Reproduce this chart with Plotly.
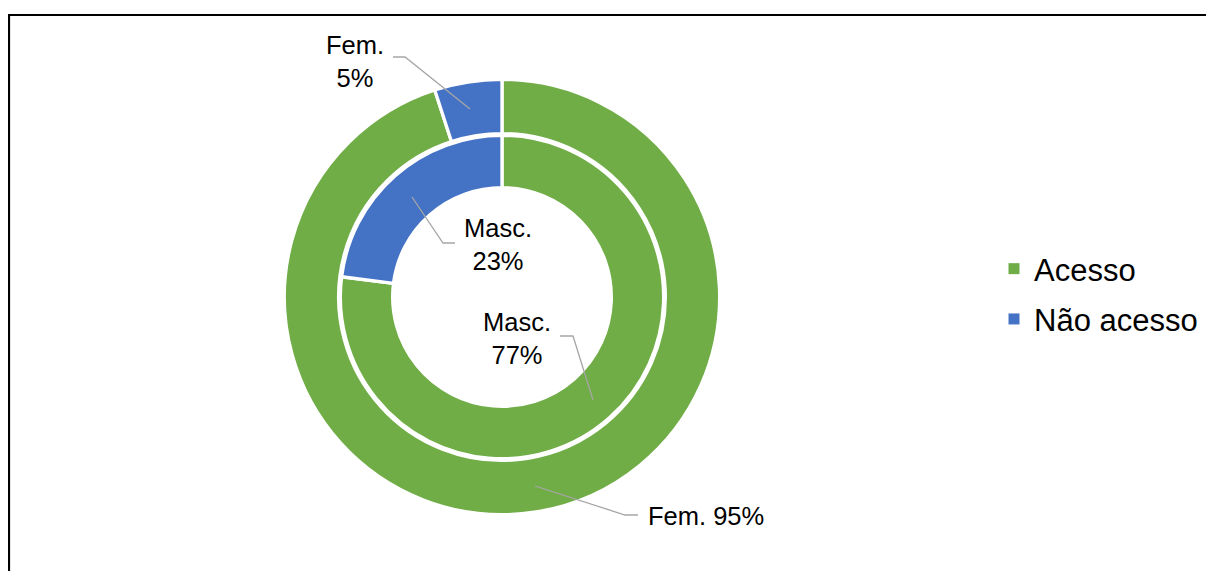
import plotly.graph_objects as go

# ---- data ----
categories = ["Acesso", "Não acesso"]
fem_values = [95, 5]
masc_values = [77, 23]
colors = ["#70AD47", "#4472C4"]

W, H = 1214, 571
OFF = 8  # default page body margin
LW = 3.3  # white separator width


def px(x):
    return (x - OFF) / W


def py(y):
    return 1 - (y - OFF) / H


def dom(cx, cy, r):
    return dict(x=[px(cx - r), px(cx + r)], y=[py(cy + r), py(cy - r)])


CX, CY = 502, 297
R_OUT = 216 + LW / 2
H_OUT = 165 - LW / 2
R_IN = 160 + LW / 2
H_IN = 111 - LW / 2

fig = go.Figure()

# outer ring: Fem.
fig.add_trace(go.Pie(
    labels=categories, values=fem_values, sort=False, direction="clockwise",
    rotation=0, hole=H_OUT / R_OUT, domain=dom(CX, CY, R_OUT),
    marker=dict(colors=colors, line=dict(color="white", width=LW)),
    textinfo="none", hoverinfo="skip", showlegend=False,
))
# inner ring: Masc.
fig.add_trace(go.Pie(
    labels=categories, values=masc_values, sort=False, direction="clockwise",
    rotation=0, hole=H_IN / R_IN, domain=dom(CX, CY, R_IN),
    marker=dict(colors=colors, line=dict(color="white", width=LW)),
    textinfo="none", hoverinfo="skip", showlegend=False,
))

# legend entries
for i, (cat, col) in enumerate(zip(categories, colors)):
    fig.add_trace(go.Scatter(
        x=[None], y=[None], mode="markers", name=cat, legendgroup=f"g{i}",
        marker=dict(symbol="square", size=11, color=col),
    ))

FAM = "Liberation Sans, Arial, sans-serif"
font = dict(family=FAM, size=25.5, color="#000000")

annotations = [
    dict(x=px(355), y=py(61), text=f"Fem.<br>{fem_values[1]}%"),
    dict(x=px(498), y=py(244), text=f"Masc.<br>{masc_values[1]}%"),
    dict(x=px(517), y=py(338), text=f"Masc.<br>{masc_values[0]}%"),
    dict(x=px(706), y=py(516), text=f"Fem. {fem_values[0]}%"),
]
for a in annotations:
    a.update(xref="paper", yref="paper", showarrow=False, font=font,
             xanchor="center", yanchor="middle", align="center")


def path(points):
    s = "M " + " L ".join(f"{px(x)},{py(y)}" for x, y in points)
    return dict(type="path", xref="paper", yref="paper", path=s,
                line=dict(color="#A6A6A6", width=1.3))


shapes = [
    path([(393, 57), (405, 57), (470, 109)]),
    path([(455, 243), (443, 243), (412, 197)]),
    path([(560, 336), (573, 336), (593, 400)]),
    path([(535, 486), (625, 515), (638, 515)]),
    dict(type="rect", xref="paper", yref="paper",
         x0=px(9), x1=1.02, y0=-0.02, y1=py(15),
         line=dict(color="#000000", width=2.2), fillcolor="rgba(0,0,0,0)"),
]

fig.update_layout(
    width=W, height=H,
    margin=dict(l=0, r=0, t=0, b=0),
    paper_bgcolor="white", plot_bgcolor="white",
    xaxis=dict(visible=False), yaxis=dict(visible=False),
    annotations=annotations, shapes=shapes,
    legend=dict(x=px(994), y=py(242), xanchor="left", yanchor="top",
                font=dict(family=FAM, size=31, color="#000000"),
                tracegroupgap=7, itemwidth=30, bgcolor="rgba(0,0,0,0)",
                traceorder="grouped"),
)

fig.write_html("out.html")
